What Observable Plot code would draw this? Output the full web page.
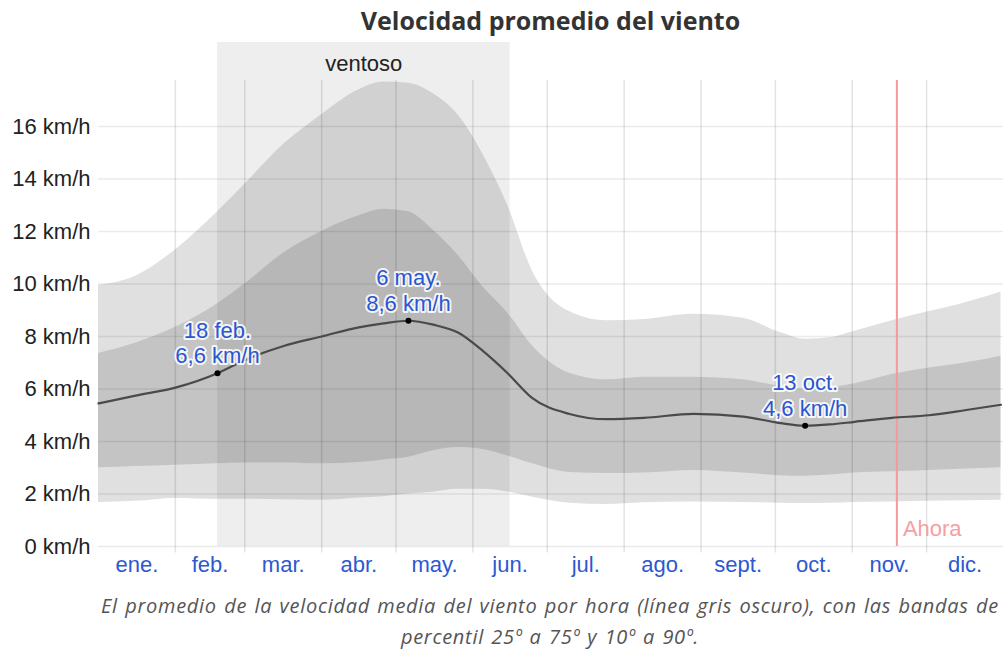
<!DOCTYPE html>
<html><head><meta charset="utf-8">
<script src="https://cdn.jsdelivr.net/npm/d3@7"></script>
<script src="https://cdn.jsdelivr.net/npm/@observablehq/plot@0.6"></script>
<style>
html,body{margin:0;padding:0;background:#fff;overflow:hidden;}
body{width:1006px;height:649px;position:relative;}
#title{height:40px;line-height:40px;padding-left:98px;padding-right:3px;text-align:center;font-family:"Open Sans",sans-serif;font-weight:700;font-size:25px;color:#333;}
#chart{height:552px;}
.cap{width:1100px;height:24px;line-height:24px;text-align:center;font-family:"Open Sans",sans-serif;font-style:italic;font-size:20px;letter-spacing:0.7px;word-spacing:1.5px;color:#555;white-space:nowrap;}
#cap1{margin-top:2px;}
#cap2{margin-top:7px;}
</style></head>
<body>
<div id="title">Velocidad promedio del viento</div>
<div id="chart"></div>
<div id="cap1" class="cap">El promedio de la velocidad media del viento por hora (línea gris oscuro), con las bandas de</div>
<div id="cap2" class="cap">percentil 25º a 75º y 10º a 90º.</div>
<script>
// day of year (0 = 1 ene.)
const days = [0,15,31,48,59,75,90,105,115,125,135,145,155,165,175,190,205,220,240,260,275,285,295,305,320,335,350,364];
const p90  = [9.95,10.3,11.3,12.75,13.8,15.35,16.45,17.4,17.7,17.65,17.25,16.45,14.95,13.0,10.5,8.95,8.6,8.65,8.85,8.7,8.15,7.9,7.95,8.2,8.6,8.95,9.3,9.7];
const p75  = [7.35,7.75,8.35,9.25,10.0,11.2,12.0,12.6,12.85,12.75,12.05,11.1,9.9,8.9,7.65,6.6,6.35,6.45,6.45,6.35,6.1,6.0,6.05,6.2,6.55,6.8,7.0,7.25];
const mean = [5.45,5.75,6.05,6.6,7.1,7.65,8.0,8.35,8.5,8.6,8.45,8.15,7.45,6.6,5.65,5.05,4.85,4.9,5.05,4.95,4.7,4.6,4.65,4.75,4.9,5.0,5.2,5.4];
const p25  = [3.0,3.05,3.1,3.15,3.18,3.18,3.15,3.2,3.3,3.4,3.65,3.77,3.7,3.45,3.15,2.82,2.78,2.8,2.9,2.8,2.7,2.68,2.72,2.8,2.85,2.9,2.95,3.0];
const p10  = [1.68,1.72,1.83,1.8,1.8,1.78,1.76,1.85,1.9,2.0,2.07,2.18,2.18,2.08,1.88,1.65,1.6,1.67,1.7,1.68,1.65,1.64,1.65,1.68,1.7,1.72,1.74,1.76];

const monthLabels = ["ene.","feb.","mar.","abr.","may.","jun.","jul.","ago.","sept.","oct.","nov.","dic."];
const monthStartDays = [0,31,59,90,120,151,181,212,243,273,304,334];
const yTicks = [0,2,4,6,8,10,12,14,16];

const annDays = [48,125,285];
const annValues = [6.6,8.6,4.6];
const annLabels = ["18 feb.\n6,6 km/h","6 may.\n8,6 km/h","13 oct.\n4,6 km/h"];

const windyDays = [48,166];
const windyLabel = "ventoso";
const nowDay = 322;
const nowLabel = "Ahora";

const toDate = d => new Date(Date.UTC(2023,0,1) + d*864e5);
const data = days.map((d,i)=>({date:toDate(d), p10:p10[i], p25:p25[i], mean:mean[i], p75:p75[i], p90:p90[i]}));
const ann = annDays.map((d,i)=>({date:toDate(d), v:annValues[i], label:annLabels[i]}));
const monthMids = monthStartDays.map((d,i)=>toDate(((d + (i<11?monthStartDays[i+1]:365))/2)));
const monthLines = monthStartDays.slice(1).map(toDate);
const windy = [{x1:toDate(windyDays[0]), x2:toDate(windyDays[1]), mid:toDate((windyDays[0]+windyDays[1])/2)}];

const plot = Plot.plot({
  width:1006, height:552, marginLeft:98, marginRight:3, marginTop:2, marginBottom:46,
  x:{type:"utc", domain:[toDate(0), toDate(365)]},
  y:{domain:[0,19.2]},
  style:{fontFamily:"'Liberation Sans', Arial, sans-serif", fontSize:"22px", background:"white", overflow:"visible"},
  marks:[
    Plot.rect(windy, {x1:"x1", x2:"x2", y1:0, y2:19.2, fill:"#000", fillOpacity:0.065}),
    Plot.areaY(data, {x:"date", y1:"p10", y2:"p90", fill:"#000", fillOpacity:0.12, curve:"monotone-x"}),
    Plot.areaY(data, {x:"date", y1:"p25", y2:"p75", fill:"#000", fillOpacity:0.12, curve:"monotone-x"}),
    Plot.ruleY(yTicks, {stroke:"#000", strokeOpacity:0.08, strokeWidth:1.5}),
    Plot.ruleX(monthLines, {y1:-0.25, y2:17.75, stroke:"#000", strokeOpacity:0.11, strokeWidth:1.5}),
    Plot.ruleX([toDate(nowDay)], {y1:0, y2:17.75, stroke:"#f59a9a", strokeWidth:2}),
    Plot.text([toDate(nowDay)], {x:d=>d, y:0, text:()=>nowLabel, textAnchor:"start", lineAnchor:"bottom", dx:6, dy:-11, fill:"#f4a0a0", fontSize:22}),
    Plot.line(data, {x:"date", y:"mean", stroke:"#4a4a4a", strokeWidth:2.2, curve:"monotone-x"}),
    Plot.dot(ann, {x:"date", y:"v", r:3, fill:"#000"}),
    Plot.text(ann, {x:"date", y:"v", text:"label", lineAnchor:"bottom", dy:-10, lineHeight:1.17, fill:"#2a56d2", stroke:"white", strokeWidth:4, strokeOpacity:0.85, fontSize:22}),
    Plot.text(windy, {x:"mid", frameAnchor:"top", text:()=>windyLabel, lineAnchor:"top", dy:13, fill:"#222", fontSize:22}),
    Plot.axisY(yTicks, {tickSize:0, tickPadding:8, tickFormat:d=>`${d} km/h`, fill:"#222", fontSize:22, label:null}),
    Plot.axisX(monthMids, {tickSize:0, tickPadding:10, tickFormat:d=>monthLabels[d.getUTCMonth()], fill:"#2d58d0", fontSize:22, label:null})
  ]
});
document.getElementById("chart").appendChild(plot);
</script>
</body></html>
